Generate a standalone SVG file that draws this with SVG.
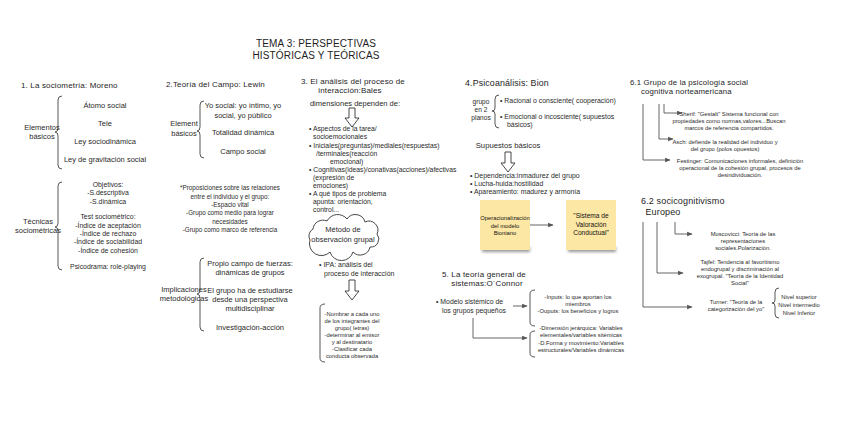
<svg xmlns="http://www.w3.org/2000/svg" width="848" height="447" viewBox="0 0 848 447">
<defs>
<style>
.h{font-family:"Liberation Sans",Arial,sans-serif;font-size:8px;fill:#1e1e1e;letter-spacing:0.15px;}
.t{font-family:"Liberation Sans",Arial,sans-serif;font-size:7.5px;fill:#2a2a2a;}
.s{font-family:"Liberation Sans",Arial,sans-serif;font-size:6.6px;fill:#2a2a2a;}
.x{font-family:"Liberation Sans",Arial,sans-serif;font-size:5.8px;fill:#2a2a2a;}
.c{text-anchor:middle;}
.br{fill:none;stroke:#444;stroke-width:0.9;}
.ln{fill:none;stroke:#555;stroke-width:0.9;}
.ha{fill:#fff;stroke:#333;stroke-width:0.9;}
.note{fill:#fde7a4;}
</style>
<marker id="ar" viewBox="0 0 10 10" refX="9" refY="5" markerWidth="6" markerHeight="6" orient="auto">
<path d="M0 1 L10 5 L0 9 z" fill="#555"/>
</marker>
<filter id="sh" x="-20%" y="-20%" width="140%" height="150%">
<feGaussianBlur stdDeviation="1.8"/>
</filter>
</defs>
<rect width="848" height="447" fill="#fff"/>

<g id="title">
<text class="h c" x="316" y="47" style="font-size:10px">TEMA 3: PERSPECTIVAS</text>
<text class="h c" x="316" y="58.8" style="font-size:10px">HISTÓRICAS Y TEÓRICAS</text>
</g>

<g id="sec1">
<text class="h" x="21" y="88">1. La sociometría: Moreno</text>
<path class="br" d="M62 96 Q58 96 58 100 L58 128 Q58 132 55 132 Q58 132 58 136 L58 165 Q58 169 62 169"/>
<text class="t c" x="42" y="130">Elementos</text>
<text class="t c" x="42" y="139">básicos</text>
<text class="t c" x="105" y="108">Átomo social</text>
<text class="t c" x="105" y="126">Tele</text>
<text class="t c" x="105" y="144">Ley sociodinámica</text>
<text class="t c" x="105" y="162">Ley de gravitación social</text>
</g>

<g id="sec1b">
<path class="br" d="M62 182 Q58 182 58 186 L58 223 Q58 227 55 227 Q58 227 58 231 L58 266 Q58 270 62 270"/>
<text class="t c" x="38" y="224">Técnicas</text>
<text class="t c" x="38" y="233">sociométricas</text>
<text class="s c" x="108" y="187" style="font-size:6.9px">Objetivos:</text>
<text class="s c" x="108" y="195" style="font-size:6.9px">-S.descriptiva</text>
<text class="s c" x="108" y="204" style="font-size:6.9px">-S.dinámica</text>
<text class="s c" x="108" y="219" style="font-size:6.9px">Test sociométrico:</text>
<text class="s c" x="108" y="228" style="font-size:6.9px">-Índice de aceptación</text>
<text class="s c" x="108" y="236" style="font-size:6.9px">-Índice de rechazo</text>
<text class="s c" x="108" y="244" style="font-size:6.9px">-Índice de sociabilidad</text>
<text class="s c" x="108" y="253" style="font-size:6.9px">-Índice de cohesión</text>
<text class="s c" x="108" y="269" style="font-size:6.9px">Psicodrama: role-playing</text>
</g>

<g id="sec2">
<text class="h" x="166" y="87">2.Teoría del Campo: Lewin</text>
<path class="br" d="M204 101 Q200 101 200 105 L200 127 Q200 131 197 131 Q200 131 200 135 L200 154 Q200 158 204 158"/>
<text class="t c" x="184" y="126">Element</text>
<text class="t c" x="184" y="136">básicos</text>
<text class="t c" x="243" y="108">Yo social: yo íntimo, yo</text>
<text class="t c" x="243" y="118">social, yo público</text>
<text class="t c" x="243" y="135">Totalidad dinámica</text>
<text class="t c" x="243" y="154">Campo social</text>
</g>

<g id="sec2b">
<text class="s c" x="230" y="190" style="font-size:6.3px">*Proposiciones sobre las relaciones</text>
<text class="s c" x="230" y="199" style="font-size:6.3px">entre el individuo y el grupo:</text>
<text class="s c" x="230" y="207" style="font-size:6.3px">-Espacio vital</text>
<text class="s c" x="230" y="215" style="font-size:6.3px">-Grupo como medio para lograr</text>
<text class="s c" x="230" y="224" style="font-size:6.3px">necesidades</text>
<text class="s c" x="230" y="232" style="font-size:6.3px">-Grupo como marco de referencia</text>
</g>

<g id="sec2c">
<path class="br" d="M204 258 Q200 258 200 262 L200 290 Q200 294 197 294 Q200 294 200 298 L200 327 Q200 331 204 331"/>
<text class="t c" x="184" y="292">Implicaciones</text>
<text class="t c" x="184" y="300.5">metodológicas</text>
<text class="t c" x="250" y="266">Propio campo de fuerzas:</text>
<text class="t c" x="250" y="275">dinámicas de grupos</text>
<text class="t c" x="250" y="293">El grupo ha de estudiarse</text>
<text class="t c" x="250" y="302">desde una perspectiva</text>
<text class="t c" x="250" y="311">multidisciplinar</text>
<text class="t c" x="250" y="330">Investigación-acción</text>
</g>

<g id="sec3">
<text class="h" x="301" y="84">3. El análisis del proceso de</text>
<text class="h c" x="350" y="93.4">interacción:Bales</text>
<text class="t c" x="355" y="106">dimensiones dependen de:</text>
<path class="ha" d="M349 108 L355 108 L355 118 L359 118 L352 127 L345 118 L349 118 Z"/>
<text class="s" x="309" y="131" style="font-size:6.8px">• Aspectos de la tarea/</text>
<text class="s" x="313" y="139" style="font-size:6.8px">socioemocionales</text>
<text class="s" x="309" y="148" style="font-size:6.8px">• Iniciales(preguntas)/mediales(respuestas)</text>
<text class="s" x="316" y="156" style="font-size:6.8px">/terminales(reacción</text>
<text class="s" x="330" y="164" style="font-size:6.8px">emocional)</text>
<text class="s" x="309" y="172" style="font-size:6.8px">• Cognitivas(ideas)/conativas(acciones)/afectivas</text>
<text class="s" x="313" y="180" style="font-size:6.8px">(expresión de</text>
<text class="s" x="313" y="188" style="font-size:6.8px">emociones)</text>
<text class="s" x="309" y="196" style="font-size:6.8px">• A qué tipos de problema</text>
<text class="s" x="313" y="204" style="font-size:6.8px">apunta: orientación,</text>
<text class="s" x="313" y="212" style="font-size:6.8px">control...</text>
</g>

<g id="cloud">
<path class="ha" d="M310 240 a8 8 0 0 1 3 -11 a10 10 0 0 1 14 -8 a12 12 0 0 1 20 -2 a10 10 0 0 1 18 3 a9 9 0 0 1 12 12 a8 8 0 0 1 -7 13 a10 10 0 0 1 -17 5 a12 12 0 0 1 -23 0 a12 12 0 0 1 -20 -12 z"/>
<text class="t c" x="343" y="232">Método de</text>
<text class="t c" x="343" y="242">observación grupal</text>
</g>

<g id="sec3b">
<text class="s" x="319" y="267" style="font-size:7px">• IPA: análisis del</text>
<text class="s" x="324" y="275.5" style="font-size:7px">proceso de interacción</text>
<path class="ha" d="M349 280 L355 280 L355 291 L359 291 L352 300 L345 291 L349 291 Z"/>
<path class="br" d="M325 304 Q320 304 320 308 L320 358 Q320 362 325 362"/>
<text class="x c" x="352" y="316">-Nombrar a cada uno</text>
<text class="x c" x="352" y="323">de los integrantes del</text>
<text class="x c" x="352" y="330">grupo( letras)</text>
<text class="x c" x="352" y="337">-determinar al emisor</text>
<text class="x c" x="352" y="344">y al destinatario</text>
<text class="x c" x="352" y="351">-Clasificar cada</text>
<text class="x c" x="352" y="358">conducta observada</text>
</g>

<g id="sec4">
<text class="h" x="465" y="86" style="font-size:8.8px">4.Psicoanálisis: Bion</text>
<text class="s c" x="481" y="104">grupo</text>
<text class="s c" x="481" y="112">en 2</text>
<text class="s c" x="481" y="120">planos</text>
<path class="br" d="M499 95 Q495 95 495 99 L495 108 Q495 111 492 111 Q495 111 495 114 L495 124 Q495 128 499 128"/>
<text class="s" x="500" y="103" style="font-size:6.9px">• Racional o consciente( cooperación)</text>
<text class="s" x="500" y="119" style="font-size:6.9px">• Emocional o incosciente( supuestos</text>
<text class="s" x="507" y="127" style="font-size:6.9px">básicos)</text>
<text class="t c" x="508" y="148" style="font-size:7.7px">Supuestos básicos</text>
<path class="ha" d="M505 152 L511 152 L511 163 L515 163 L508 172 L501 163 L505 163 Z"/>
<text class="s" x="470" y="178" style="font-size:6.9px">• Dependencia:inmadurez del grupo</text>
<text class="s" x="470" y="186" style="font-size:6.9px">• Lucha-huida:hostilidad</text>
<text class="s" x="470" y="194" style="font-size:6.9px">• Apareamiento: madurez y armonía</text>
</g>

<g id="note1">
<rect x="482" y="247" width="48" height="5" fill="#999" filter="url(#sh)"/>
<rect class="note" x="480" y="200" width="50" height="50"/>
<text class="x c" x="505" y="220" style="fill:#111">Operacionalización</text>
<text class="x c" x="505" y="228" style="fill:#111">del modelo</text>
<text class="x c" x="505" y="235" style="fill:#111">Bioniano</text>
</g>
<g id="note2">
<rect x="568" y="247" width="48" height="5" fill="#999" filter="url(#sh)"/>
<rect class="note" x="566" y="200" width="50" height="50"/>
<text class="s c" x="591" y="218" style="fill:#111">"Sistema de</text>
<text class="s c" x="591" y="227" style="fill:#111">Valoración</text>
<text class="s c" x="591" y="235" style="fill:#111">Conductual"</text>
</g>

<g id="sec5">
<text class="h" x="442" y="277">5. La teoría general de</text>
<text class="h c" x="487" y="286.4">sistemas:O´Connor</text>
<text class="s" x="436" y="304" style="font-size:6.9px">• Modelo sistémico de</text>
<text class="s" x="442" y="313" style="font-size:6.9px">los grupos pequeños</text>
<path class="br" d="M535 290 Q530 290 530 294 L530 322 Q530 326 535 326"/>
<text class="x c" x="578" y="299">-Inputs: lo que aportan los</text>
<text class="x c" x="578" y="306">miembros</text>
<text class="x c" x="578" y="313">-Ouputs: los beneficios y logros</text>
<path class="br" d="M535 331 Q530 331 530 335 L530 353 Q530 357 535 357"/>
<text class="x c" x="581" y="330">-Dimensión jerárquica: Variables</text>
<text class="x c" x="581" y="337">elementales/variables sitémicas</text>
<text class="x c" x="581" y="345">-D.Forma y movimiento:Variables</text>
<text class="x c" x="581" y="352">estructurales/Variables dinámicas</text>
</g>

<g id="sec61">
<text class="h" x="630" y="85" style="font-size:7.8px">6.1 Grupo de la psicología social</text>
<text class="h" x="641" y="94.2" style="font-size:7.8px">cognitiva norteamericana</text>
<text class="x c" x="729" y="116">Sherif: "Gestalt" Sistema funcional con</text>
<text class="x c" x="729" y="123">propiedades como normas,valores...Buscan</text>
<text class="x c" x="729" y="130">marcos de referencia compartidos.</text>
<text class="x c" x="725" y="144">Asch: defiende la realidad del individuo y</text>
<text class="x c" x="725" y="151">del grupo (polos opuestos)</text>
<text class="x c" x="740" y="163">Festinger: Comunicaciones informales, definición</text>
<text class="x c" x="740" y="170">operacional de la cohesión grupal, procesos de</text>
<text class="x c" x="740" y="177">desindividuación.</text>
</g>

<g id="sec62">
<text class="h" x="641" y="204" style="font-size:9px">6.2 socicognitivismo</text>
<text class="h c" x="663" y="214.6" style="font-size:9px">Europeo</text>
<text class="x c" x="743" y="236">Moscovicci: Teoría de las</text>
<text class="x c" x="743" y="243">representaciones</text>
<text class="x c" x="743" y="250">sociales.Polarización.</text>
<text class="x c" x="740" y="264">Tajfel: Tendencia al favoritismo</text>
<text class="x c" x="740" y="271">endogrupal y discriminación al</text>
<text class="x c" x="740" y="278">exogrupal. "Teoría de la Identidad</text>
<text class="x c" x="740" y="285">Social"</text>
<text class="x c" x="736" y="304">Turner: "Teoría de la</text>
<text class="x c" x="736" y="311">categorización del yo"</text>
<path class="br" d="M779 288 Q775 288 775 292 L775 300 Q775 303 772 303 Q775 303 775 306 L775 314 Q775 318 779 318"/>
<text class="x c" x="799" y="299">Nivel superior</text>
<text class="x c" x="799" y="307">Nivel intermedio</text>
<text class="x c" x="799" y="315">Nivel Inferior</text>
</g>

<g id="connectors">
<line class="ln" x1="530" y1="225" x2="553" y2="225" marker-end="url(#ar)"/>
<line class="ln" x1="513" y1="306" x2="527" y2="306" marker-end="url(#ar)"/>
<path class="ln" d="M473 318 L473 338 L527 338" marker-end="url(#ar)"/>
<path class="ln" d="M664 104 L664 113 L682 113" marker-end="url(#ar)"/>
<path class="ln" d="M659 104 L659 139 L673 139" marker-end="url(#ar)"/>
<path class="ln" d="M643 104 L643 160 L670 160" marker-end="url(#ar)"/>
<path class="ln" d="M675 222 L675 234 L692 234" marker-end="url(#ar)"/>
<path class="ln" d="M657 222 L657 273 L683 273" marker-end="url(#ar)"/>
<path class="ln" d="M643 222 L643 307 L692 307" marker-end="url(#ar)"/>
</g>
</svg>
